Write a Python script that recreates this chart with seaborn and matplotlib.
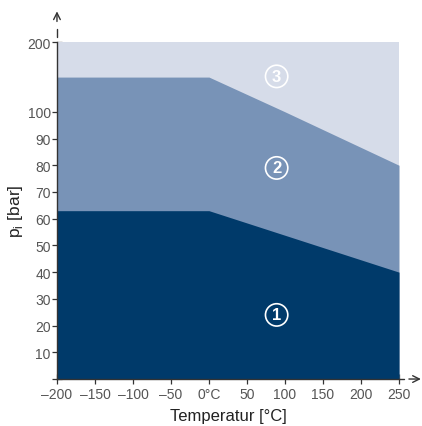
import matplotlib
matplotlib.use("Agg")
import matplotlib.pyplot as plt
import numpy as np
import seaborn as sns

# values
temps_1 = [-200, 0, 250]
limit_1 = [63, 63, 40]          # region 1 upper boundary [bar]
temps_2 = [-200, 0, 100, 250]
limit_2 = [150, 150, 100, 80]   # region 2 upper boundary [bar]
temps_3 = [-200, 250]
limit_3 = [200, 200]            # region 3 upper boundary [bar]

x_ticks = [-200, -150, -100, -50, 0, 50, 100, 150, 200, 250]
x_tick_labels = ["–200", "–150", "–100", "–50", "0°C", "50", "100", "150", "200", "250"]
y_ticks = [0, 10, 20, 30, 40, 50, 60, 70, 80, 90, 100, 200]
y_tick_labels = ["", "10", "20", "30", "40", "50", "60", "70", "80", "90", "100", "200"]

region_labels = ["1", "2", "3"]
label_x = [89, 89, 89]
label_y = [24, 79, 151]

colors = ["#003a6a", "#7893b7", "#d6dce9"]

BREAK = 100.0
K = 0.26  # compression above the axis break


def fwd(y):
    y = np.asarray(y, dtype=float)
    return np.where(y <= BREAK, y, BREAK + (y - BREAK) * K)


def inv(y):
    y = np.asarray(y, dtype=float)
    return np.where(y <= BREAK, y, BREAK + (y - BREAK) / K)


sns.set_theme(style="white")
plt.rcParams["font.family"] = ["Liberation Sans", "DejaVu Sans"]

fig = plt.figure(figsize=(4.22, 4.27), dpi=100)
ax = fig.add_axes([0.135, 0.110, 0.8105, 0.7885])
ax.set_yscale("function", functions=(fwd, inv))

# paint layers from back to front
ax.fill_between(temps_3, 0, limit_3, color=colors[2], lw=0)
ax.fill_between(temps_2, 0, limit_2, color=colors[1], lw=0)
ax.fill_between(temps_1, 0, limit_1, color=colors[0], lw=0)

ax.set_xlim(-200, 250)
ax.set_ylim(0, 200)

for txt, xx, yy in zip(region_labels, label_x, label_y):
    ax.text(xx, yy, txt, color="white", fontsize=12, fontweight="bold",
            ha="center", va="center",
            bbox=dict(boxstyle="circle,pad=0.22", fc="none", ec="white", lw=1.2))

ax.set_xticks(x_ticks)
ax.set_xticklabels(x_tick_labels)
ax.set_yticks(y_ticks)
ax.set_yticklabels(y_tick_labels)
ax.minorticks_off()
ax.tick_params(axis="both", direction="inout", length=7, width=0.9,
               bottom=True, left=True,
               color="#333333", labelcolor="#555555", labelsize=10, pad=2)
ax.tick_params(axis="y", pad=1)

sns.despine(ax=ax, top=True, right=True)
for side in ["left", "bottom"]:
    ax.spines[side].set_color("#333333")
    ax.spines[side].set_linewidth(1.0)

# axis extensions with break and arrows
ax.plot([0, 0], [1.016, 1.039], transform=ax.transAxes, color="#333333",
        lw=1.0, clip_on=False)
ax.annotate("", xy=(0, 1.092), xytext=(0, 1.062), xycoords="axes fraction",
            arrowprops=dict(arrowstyle="->", color="#333333", lw=1.0,
                            shrinkA=0, shrinkB=0))
ax.plot([1.0, 1.015], [0, 0], transform=ax.transAxes, color="#333333",
        lw=1.0, clip_on=False)
ax.annotate("", xy=(1.064, 0), xytext=(1.029, 0), xycoords="axes fraction",
            arrowprops=dict(arrowstyle="->", color="#333333", lw=1.0,
                            shrinkA=0, shrinkB=0))

ax.set_xlabel("Temperatur [°C]", fontsize=12, color="#222222", labelpad=5)
ax.set_ylabel("p$_\\mathregular{i}$ [bar]", fontsize=12.5, color="#222222", labelpad=2)

fig.savefig("out.png", dpi=100)
